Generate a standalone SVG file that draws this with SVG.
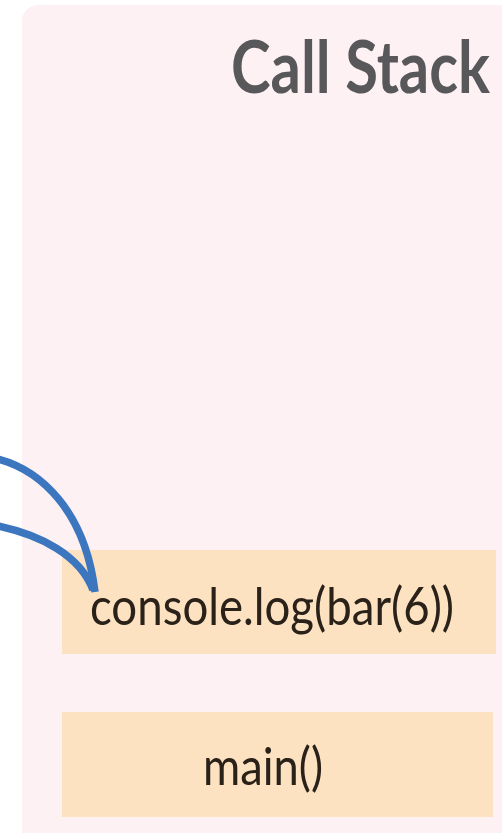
<svg xmlns="http://www.w3.org/2000/svg" width="502" height="833" viewBox="0 0 502 833">
<style>
.frame{fill:#fdf1f4}
.box{fill:#fde2c2}
.lbl{font-family:Lato,"Open Sans","Liberation Sans",sans-serif;fill:#2a2118}
.title{font-family:Lato,"Open Sans","Liberation Sans",sans-serif;font-weight:bold;fill:#58585a}
.edge{fill:none;stroke:#3b76bf;stroke-width:7.5;stroke-linecap:butt}
</style>
<rect width="502" height="833" fill="#ffffff"/>
<g id="panel">
<rect class="frame" x="22" y="5" width="500" height="850" rx="16"/>
<text class="title" x="231" y="93" font-size="73" textLength="259" lengthAdjust="spacingAndGlyphs">Call Stack</text>
</g>
<g id="node-console">
<rect class="box" x="62" y="550" width="434" height="104"/>
<text class="lbl" x="90" y="625" font-size="52" textLength="364" lengthAdjust="spacingAndGlyphs">console.log(bar(6))</text>
</g>
<g id="node-main">
<rect class="box" x="62" y="712" width="431" height="105"/>
<text class="lbl" x="203" y="785" font-size="52" textLength="120" lengthAdjust="spacingAndGlyphs">main()</text>
</g>
<g id="connectors">
<path class="edge" d="M -2 459 C 40 470, 85 510, 95 592"/>
<path class="edge" d="M -2 526 C 40 535, 80 555, 93 590"/>
</g>
</svg>
